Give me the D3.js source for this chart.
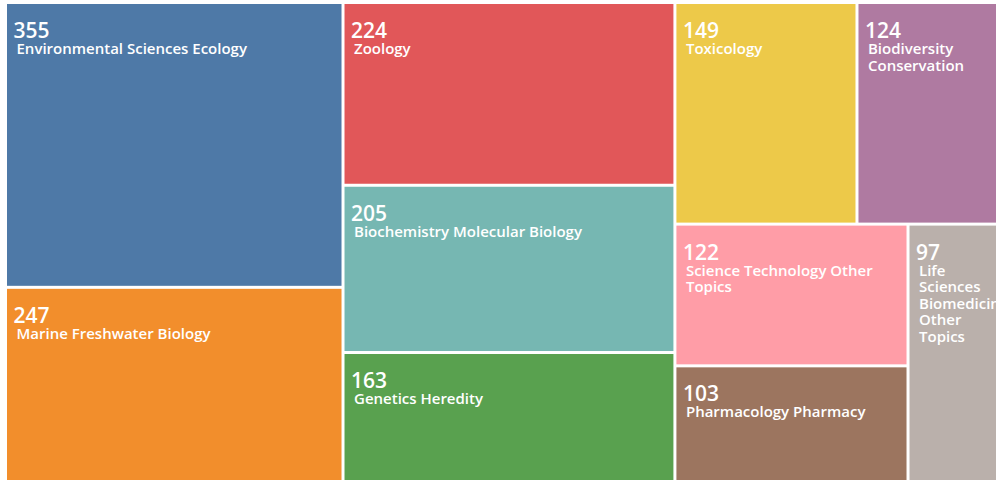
<!DOCTYPE html>
<html>
<head>
<meta charset="utf-8">
<script src="https://cdn.jsdelivr.net/npm/d3@7"></script>
<style>
  html, body { margin: 0; padding: 0; background: #fff; overflow: hidden; }
  svg { display: block; }
  text { font-family: "Open Sans", sans-serif; fill: #fff; }
</style>
</head>
<body>
<svg id="chart" width="996" height="480"></svg>
<script>
const categories = [
  "Environmental Sciences Ecology",
  "Marine Freshwater Biology",
  "Zoology",
  "Biochemistry Molecular Biology",
  "Genetics Heredity",
  "Toxicology",
  "Biodiversity Conservation",
  "Science Technology Other Topics",
  "Pharmacology Pharmacy",
  "Life Sciences Biomedicine Other Topics"
];
const values = [355, 247, 224, 205, 163, 149, 124, 122, 103, 97];
const colors = d3.schemeTableau10;

const svg = d3.select("#chart");
const g = svg.append("g").attr("transform", "translate(7,4)");

const data = { name: "root", children: categories.map((c, i) => ({ name: c, value: values[i], idx: i })) };
const root = d3.hierarchy(data).sum(d => d.value || 0).sort((a, b) => b.value - a.value);
d3.treemap().tile(d3.treemapSquarify).size([1000, 480]).paddingInner(3)(root);

const color = d3.scaleOrdinal().domain(categories).range(colors);

const leaf = g.selectAll("g.leaf").data(root.leaves()).join("g")
  .attr("class", "leaf")
  .attr("transform", d => `translate(${d.x0},${d.y0})`);

leaf.append("rect")
  .attr("width", d => d.x1 - d.x0)
  .attr("height", d => d.y1 - d.y0)
  .attr("fill", d => color(d.data.name));

leaf.append("text")
  .attr("x", 6.5).attr("y", 34)
  .style("font-size", "21px").style("font-weight", 600)
  .text(d => d.data.value);

leaf.each(function(d) {
  const w = d.x1 - d.x0;
  const t = d3.select(this).append("text")
    .attr("x", 9.5).attr("y", 50)
    .style("font-size", "15px").style("font-weight", 600);
  const words = d.data.name.split(" ");
  let line = [];
  let tspan = t.append("tspan").attr("x", 9.5).attr("dy", 0);
  const maxW = w - 14;
  words.forEach(word => {
    line.push(word);
    tspan.text(line.join(" "));
    if (tspan.node().getComputedTextLength() > maxW && line.length > 1) {
      line.pop();
      tspan.text(line.join(" "));
      line = [word];
      tspan = t.append("tspan").attr("x", 9.5).attr("dy", 16.5).text(word);
    }
  });
});
</script>
</body>
</html>
